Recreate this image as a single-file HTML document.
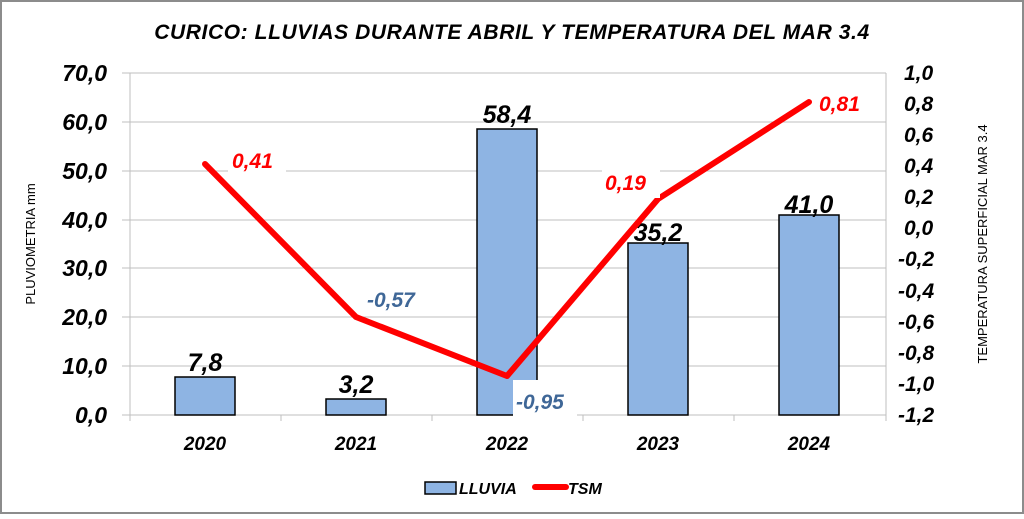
<!DOCTYPE html>
<html><head><meta charset="utf-8"><style>
body{margin:0;background:#fff}
svg text{font-family:"Liberation Sans",sans-serif;font-style:italic;font-weight:bold}
</style></head><body>
<svg width="1024" height="514" viewBox="0 0 1024 514" xmlns="http://www.w3.org/2000/svg">
<rect x="1" y="1" width="1022" height="512" fill="#fff" stroke="#8c8c8c" stroke-width="2"/>
<text x="512" y="39" font-size="21" text-anchor="middle" letter-spacing="0.6">CURICO:  LLUVIAS DURANTE ABRIL Y TEMPERATURA DEL MAR 3.4</text>
<g stroke="#bfbfbf" stroke-width="1">
<line x1="122" y1="73" x2="886" y2="73"/><line x1="122" y1="122" x2="886" y2="122"/>
<line x1="122" y1="171" x2="886" y2="171"/><line x1="122" y1="220" x2="886" y2="220"/>
<line x1="122" y1="268" x2="886" y2="268"/><line x1="122" y1="317" x2="886" y2="317"/>
<line x1="122" y1="366" x2="886" y2="366"/><line x1="122" y1="415" x2="886" y2="415"/>
<line x1="130" y1="73" x2="130" y2="415"/><line x1="886" y1="73" x2="886" y2="415"/>
<line x1="281" y1="415" x2="281" y2="421"/><line x1="432" y1="415" x2="432" y2="421"/>
<line x1="583" y1="415" x2="583" y2="421"/><line x1="734" y1="415" x2="734" y2="421"/>
<line x1="130" y1="415" x2="130" y2="421"/><line x1="886" y1="415" x2="886" y2="421"/>
</g>
<g font-size="23" text-anchor="end">
<text x="107" y="81">70,0</text><text x="107" y="130">60,0</text><text x="107" y="179">50,0</text>
<text x="107" y="228">40,0</text><text x="107" y="276">30,0</text><text x="107" y="325">20,0</text>
<text x="107" y="374">10,0</text><text x="107" y="423">0,0</text>
</g>
<g font-size="21" text-anchor="start">
<text x="904" y="80">1,0</text><text x="904" y="111">0,8</text><text x="904" y="142">0,6</text>
<text x="904" y="173">0,4</text><text x="904" y="204">0,2</text><text x="904" y="235">0,0</text>
<text x="898" y="266">-0,2</text><text x="898" y="298">-0,4</text><text x="898" y="329">-0,6</text>
<text x="898" y="360">-0,8</text><text x="898" y="391">-1,0</text><text x="898" y="422">-1,2</text>
</g>
<text transform="translate(35,244) rotate(-90)" font-size="13" text-anchor="middle" style="font-style:normal;font-weight:normal">PLUVIOMETRIA  mm</text>
<text transform="translate(987,244) rotate(-90)" font-size="13" text-anchor="middle" style="font-style:normal;font-weight:normal">TEMPERATURA SUPERFICIAL MAR  3.4</text>
<g fill="#8eb4e3" stroke="#000" stroke-width="1.5">
<rect x="175" y="377" width="60" height="38"/><rect x="326" y="399" width="60" height="16"/>
<rect x="477" y="129" width="60" height="286"/><rect x="628" y="243" width="60" height="172"/>
<rect x="779" y="215" width="60" height="200"/>
</g>
<g font-size="25" text-anchor="middle">
<text x="205" y="371">7,8</text><text x="356" y="393">3,2</text><text x="507" y="123">58,4</text>
<text x="658" y="241">35,2</text><text x="809" y="213">41,0</text>
</g>
<g font-size="19" text-anchor="middle">
<text x="205" y="450">2020</text><text x="356" y="450">2021</text><text x="507" y="450">2022</text>
<text x="658" y="450">2023</text><text x="809" y="450">2024</text>
</g>
<polyline points="205,164 356,317 507,376 658,199 809,102" fill="none" stroke="#f00" stroke-width="6" stroke-linejoin="round" stroke-linecap="round"/>
<rect x="228" y="142" width="58" height="30" fill="#fff"/>
<text x="232" y="168" font-size="21" fill="#f00">0,41</text>
<rect x="364" y="285" width="68" height="30" fill="#fff"/>
<text x="367" y="307" font-size="21" fill="#3f6797">-0,57</text>
<rect x="513" y="380" width="64" height="38" fill="#fff"/>
<text x="516" y="409" font-size="21" fill="#3f6797">-0,95</text>
<rect x="602" y="168" width="58" height="30" fill="#fff"/>
<text x="605" y="190" font-size="21" fill="#f00">0,19</text>
<rect x="816" y="90" width="52" height="28" fill="#fff"/>
<text x="819" y="111" font-size="21" fill="#f00">0,81</text>
<rect x="425" y="482" width="31" height="12" fill="#8eb4e3" stroke="#000" stroke-width="1.5"/>
<text x="459" y="494" font-size="16">LLUVIA</text>
<line x1="535" y1="487" x2="566" y2="487" stroke="#f00" stroke-width="6" stroke-linecap="round"/>
<text x="568" y="494" font-size="16">TSM</text>
</svg>
</body></html>
